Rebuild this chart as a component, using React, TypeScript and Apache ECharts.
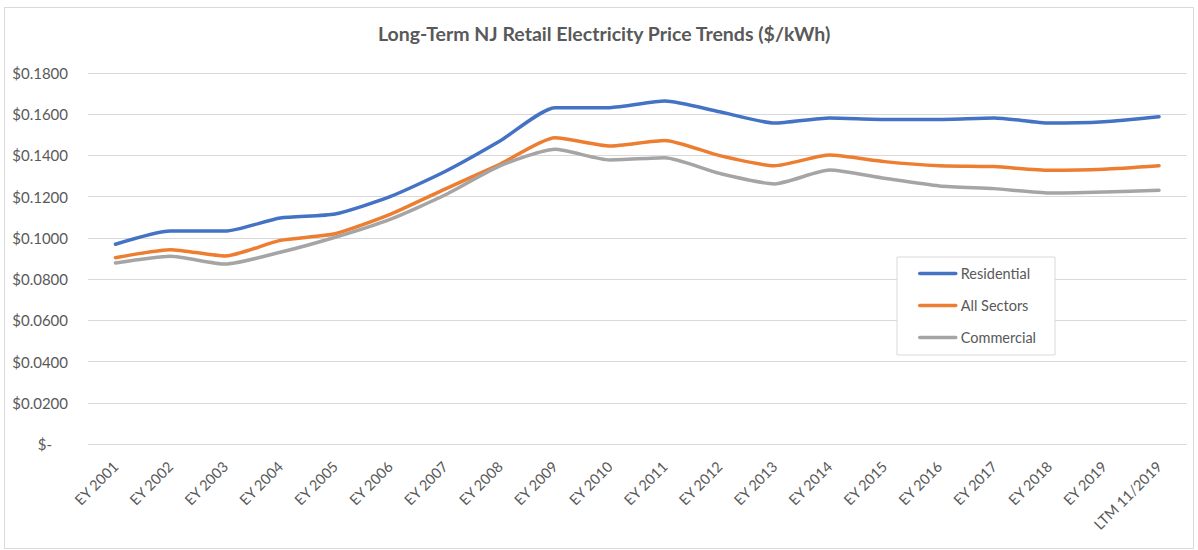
import React, { useEffect, useRef } from "react";
import * as echarts from "echarts";

const categories = [
  "EY 2001", "EY 2002", "EY 2003", "EY 2004", "EY 2005", "EY 2006", "EY 2007",
  "EY 2008", "EY 2009", "EY 2010", "EY 2011", "EY 2012", "EY 2013", "EY 2014",
  "EY 2015", "EY 2016", "EY 2017", "EY 2018", "EY 2019", "LTM 11/2019",
];

const residential = [
  0.0969, 0.1033, 0.1033, 0.1097, 0.1116, 0.1200, 0.1322, 0.1470, 0.1632, 0.1632,
  0.1664, 0.1612, 0.1557, 0.1582, 0.1575, 0.1575, 0.1582, 0.1557, 0.1564, 0.1588,
];

const allSectors = [
  0.0904, 0.0943, 0.0912, 0.0988, 0.1020, 0.1114, 0.1237, 0.1357, 0.1486, 0.1446,
  0.1473, 0.1399, 0.1350, 0.1402, 0.1370, 0.1350, 0.1346, 0.1328, 0.1333, 0.1350,
];

const commercial = [
  0.0878, 0.0911, 0.0873, 0.0930, 0.1003, 0.1090, 0.1208, 0.1349, 0.1430, 0.1378,
  0.1389, 0.1313, 0.1262, 0.1329, 0.1289, 0.1252, 0.1239, 0.1218, 0.1223, 0.1231,
];

const titleText = "Long-Term NJ Retail Electricity Price Trends ($/kWh)";
const FONT = "Lato, 'Open Sans', sans-serif";
const TXT = "#595959";

export default function App() {
  const ref = useRef<HTMLDivElement>(null);
  useEffect(() => {
    if (!ref.current) return;
    const chart = echarts.init(ref.current, undefined, { renderer: "svg" });
    const mk = (name: string, data: number[], color: string) => ({
      name,
      type: "line",
      data,
      symbol: "none",
      smooth: 0.2,
      lineStyle: { color, width: 3.5, cap: "round", join: "round" },
      itemStyle: { color },
    });
    chart.setOption({
      animation: false,
      backgroundColor: "#ffffff",
      textStyle: { fontFamily: FONT },
      title: {
        text: titleText,
        left: 373,
        top: 18,
        textStyle: { fontFamily: FONT, fontSize: 19.5, fontWeight: "bold", color: TXT },
      },
      graphic: [
        {
          type: "rect",
          shape: { x: 4.5, y: 7.5, width: 1189, height: 541 },
          style: { fill: "none", stroke: "#d9d9d9", lineWidth: 1 },
          silent: true,
          z: -10,
        },
      ],
      grid: { left: 88, right: 11.5, top: 73, bottom: 106, containLabel: false },
      xAxis: {
        type: "category",
        data: categories,
        boundaryGap: true,
        axisLine: { show: false },
        axisTick: { show: false },
        axisLabel: {
          rotate: 45,
          margin: 20,
          interval: 0,
          color: TXT,
          fontSize: 14.5,
          fontFamily: FONT,
        },
      },
      yAxis: {
        type: "value",
        min: 0,
        max: 0.18,
        interval: 0.02,
        axisLine: { show: false },
        axisTick: { show: false },
        splitLine: { lineStyle: { color: "#d9d9d9", width: 1 } },
        axisLabel: {
          margin: 20,
          color: TXT,
          fontSize: 15,
          fontFamily: FONT,
          formatter: (v: number) => (v === 0 ? "{z|$-}" : "$" + v.toFixed(4)),
          rich: { z: { padding: [0, 16, 0, 0], color: TXT, fontSize: 15, fontFamily: FONT } },
        },
      },
      legend: {
        orient: "vertical",
        left: 897,
        top: 257,
        padding: [9, 19, 10, 21],
        itemGap: 17,
        itemWidth: 36,
        itemHeight: 14,
        itemStyle: { opacity: 0 },
        lineStyle: { width: 3.5, cap: "round" },
        borderColor: "#d9d9d9",
        borderWidth: 1,
        backgroundColor: "#ffffff",
        textStyle: { color: TXT, fontSize: 14.5, fontFamily: FONT },
        data: ["Residential", "All Sectors", "Commercial"],
      },
      series: [
        mk("Residential", residential, "#4472C4"),
        mk("All Sectors", allSectors, "#ED7D31"),
        mk("Commercial", commercial, "#A5A5A5"),
      ],
    });
    return () => chart.dispose();
  }, []);
  return (
    <div
      ref={ref}
      style={{ position: "absolute", left: 0, top: 0, width: 1198, height: 550 }}
    />
  );
}
